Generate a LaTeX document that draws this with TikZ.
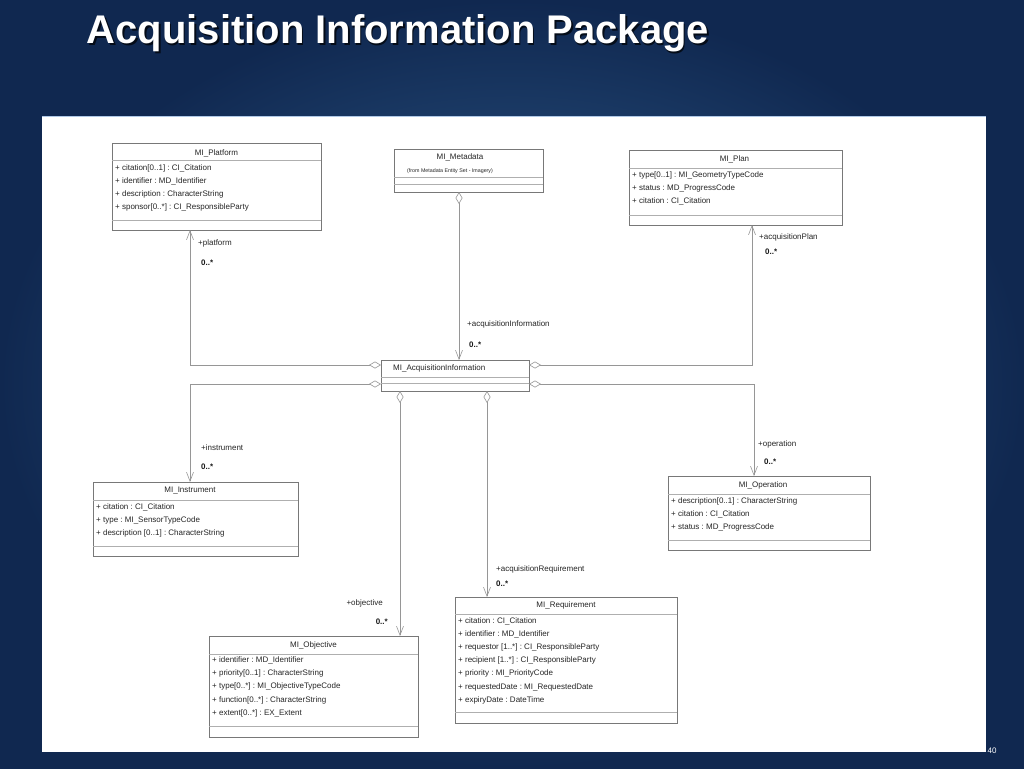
\documentclass[tikz,border=0pt]{standalone}
\usepackage{fontspec}
\setmainfont{Liberation Sans}
\usetikzlibrary{arrows.meta,shadows}
\definecolor{bgin}{RGB}{50,98,148}
\definecolor{bgout}{RGB}{16,40,80}
\definecolor{linegray}{RGB}{150,150,150}
\definecolor{boxgray}{RGB}{120,120,120}
\definecolor{sepgray}{RGB}{175,175,175}
\definecolor{paneledge}{RGB}{175,200,230}
\frenchspacing
\begin{document}
\begin{tikzpicture}[x=1pt,y=-1pt,
  cls/.style={draw=boxgray, line width=0.6pt, fill=white, anchor=north west, inner sep=0pt, outer sep=0pt,
    drop shadow={shadow xshift=0.9pt, shadow yshift=-0.9pt, opacity=1, fill=black!65}},
  txt/.style={font=\fontsize{8}{9}\selectfont, inner sep=0pt, anchor=west, text=black!85},
  ttl/.style={font=\fontsize{8}{9}\selectfont, inner sep=0pt, text=black!85},
  mult/.style={font=\fontsize{8}{9}\selectfont\bfseries, inner sep=0pt, anchor=west, text=black!90},
  sep/.style={draw=sepgray, line width=0.5pt},
  agg/.style={draw=linegray, line width=0.6pt,
    {Diamond[fill=white,length=12pt,width=7pt]}-{Straight Barb[length=9pt,width=7pt]}},
]
\useasboundingbox (0,0) rectangle (1024,768);
\shade[inner color=bgin, outer color=bgout] (0,0) rectangle (1024,768);
\node[fill=white, anchor=north west, minimum width=944pt, minimum height=636pt, inner sep=0pt] (panel) at (42,116) {};
\draw[paneledge, line width=1pt] (panel.north west) -- (panel.north east);

% title
\node[font=\fontsize{40}{41}\bfseries, text=black, anchor=base west, inner sep=0pt, opacity=0.7] (titleshadow) at (88,45.5) {Acquisition Information Package};
\node[font=\fontsize{40}{41}\bfseries, text=white, anchor=base west, inner sep=0pt] (title) at (86.5,44) {Acquisition Information Package};
\node[font=\fontsize{8}{9}\selectfont, text=white, inner sep=0pt] (pnum) at (992,751) {40};

% MI_Platform
\node[cls, minimum width=209pt, minimum height=87pt] (plat) at (112,143) {};
\draw[sep] ([yshift=-17pt]plat.north west) -- ([yshift=-17pt]plat.north east);
\draw[sep] ([yshift=-77pt]plat.north west) -- ([yshift=-77pt]plat.north east);
\node[ttl] (platt) at (216.5,153) {MI\_Platform};
\node[txt] (plata1) at (115,168) {+ citation[0..1] : CI\_Citation};
\node[txt] (plata2) at (115,181.2) {+ identifier : MD\_Identifier};
\node[txt] (plata3) at (115,194.4) {+ description : CharacterString};
\node[txt] (plata4) at (115,207.6) {+ sponsor[0..*] : CI\_ResponsibleParty};

% MI_Metadata
\node[cls, minimum width=149pt, minimum height=43pt] (meta) at (394,149) {};
\draw[sep] ([yshift=-28pt]meta.north west) -- ([yshift=-28pt]meta.north east);
\draw[sep] ([yshift=-35pt]meta.north west) -- ([yshift=-35pt]meta.north east);
\node[ttl] (metat) at (460,157) {MI\_Metadata};
\node[txt, font=\fontsize{5.3}{6}\selectfont] (metas) at (407,171.5) {(from Metadata Entity Set - Imagery)};

% MI_Plan
\node[cls, minimum width=213pt, minimum height=75pt] (plan) at (629,150) {};
\draw[sep] ([yshift=-18pt]plan.north west) -- ([yshift=-18pt]plan.north east);
\draw[sep] ([yshift=-65pt]plan.north west) -- ([yshift=-65pt]plan.north east);
\node[ttl] (plant) at (734.5,159) {MI\_Plan};
\node[txt] (plana1) at (632,175) {+ type[0..1] : MI\_GeometryTypeCode};
\node[txt] (plana2) at (632,188.2) {+ status : MD\_ProgressCode};
\node[txt] (plana3) at (632,201.4) {+ citation : CI\_Citation};

% MI_AcquisitionInformation
\node[cls, minimum width=148pt, minimum height=31pt] (acq) at (381,360) {};
\draw[sep] ([yshift=-17pt]acq.north west) -- ([yshift=-17pt]acq.north east);
\draw[sep] ([yshift=-23pt]acq.north west) -- ([yshift=-23pt]acq.north east);
\node[txt] (acqt) at (393,368) {MI\_AcquisitionInformation};

% MI_Instrument
\node[cls, minimum width=205pt, minimum height=74pt] (inst) at (93,482) {};
\draw[sep] ([yshift=-18pt]inst.north west) -- ([yshift=-18pt]inst.north east);
\draw[sep] ([yshift=-64pt]inst.north west) -- ([yshift=-64pt]inst.north east);
\node[ttl] (instt) at (190,491) {MI\_Instrument};
\node[txt] (insta1) at (96,507) {+ citation : CI\_Citation};
\node[txt] (insta2) at (96,520.2) {+ type : MI\_SensorTypeCode};
\node[txt] (insta3) at (96,533.4) {+ description [0..1] : CharacterString};

% MI_Operation
\node[cls, minimum width=202pt, minimum height=74pt] (oper) at (668,476) {};
\draw[sep] ([yshift=-18pt]oper.north west) -- ([yshift=-18pt]oper.north east);
\draw[sep] ([yshift=-64pt]oper.north west) -- ([yshift=-64pt]oper.north east);
\node[ttl] (opert) at (763,485) {MI\_Operation};
\node[txt] (opera1) at (671,501) {+ description[0..1] : CharacterString};
\node[txt] (opera2) at (671,514.2) {+ citation : CI\_Citation};
\node[txt] (opera3) at (671,527.4) {+ status : MD\_ProgressCode};

% MI_Objective
\node[cls, minimum width=209pt, minimum height=101pt] (obj) at (209,636) {};
\draw[sep] ([yshift=-18pt]obj.north west) -- ([yshift=-18pt]obj.north east);
\draw[sep] ([yshift=-90pt]obj.north west) -- ([yshift=-90pt]obj.north east);
\node[ttl] (objt) at (313.5,645) {MI\_Objective};
\node[txt] (obja1) at (212,660.5) {+ identifier : MD\_Identifier};
\node[txt] (obja2) at (212,673.7) {+ priority[0..1] : CharacterString};
\node[txt] (obja3) at (212,686.9) {+ type[0..*] : MI\_ObjectiveTypeCode};
\node[txt] (obja4) at (212,700.1) {+ function[0..*] : CharacterString};
\node[txt] (obja5) at (212,713.3) {+ extent[0..*] : EX\_Extent};

% MI_Requirement
\node[cls, minimum width=222pt, minimum height=126pt] (req) at (455,597) {};
\draw[sep] ([yshift=-17pt]req.north west) -- ([yshift=-17pt]req.north east);
\draw[sep] ([yshift=-115pt]req.north west) -- ([yshift=-115pt]req.north east);
\node[ttl] (reqt) at (566,605) {MI\_Requirement};
\node[txt] (reqa1) at (458,621) {+ citation : CI\_Citation};
\node[txt] (reqa2) at (458,634.2) {+ identifier : MD\_Identifier};
\node[txt] (reqa3) at (458,647.4) {+ requestor [1..*] : CI\_ResponsibleParty};
\node[txt] (reqa4) at (458,660.6) {+ recipient [1..*] : CI\_ResponsibleParty};
\node[txt] (reqa5) at (458,673.8) {+ priority : MI\_PriorityCode};
\node[txt] (reqa6) at (458,687) {+ requestedDate : MI\_RequestedDate};
\node[txt] (reqa7) at (458,700.2) {+ expiryDate : DateTime};

% connectors
\draw[agg] ([yshift=-5pt]acq.north west) -| ([xshift=78pt]plat.south west);
\draw[agg] ([yshift=-24pt]acq.north west) -| ([xshift=97pt]inst.north west);
\draw[agg] ([yshift=-5pt]acq.north east) -| ([xshift=123pt]plan.south west);
\draw[agg] ([yshift=-24pt]acq.north east) -| ([xshift=86pt]oper.north west);
\draw[agg] ([xshift=65pt]meta.south west) -- ([xshift=78pt]acq.north west);
\draw[agg] ([xshift=19pt]acq.south west) -- ([xshift=191pt]obj.north west);
\draw[agg] ([xshift=106pt]acq.south west) -- ([xshift=32pt]req.north west);

% role labels
\node[txt] (lplat) at (198,243) {+platform};
\node[mult] (mplat) at (201,263) {0..*};
\node[txt] (lmeta) at (467,324) {+acquisitionInformation};
\node[mult] (mmeta) at (469,345) {0..*};
\node[txt] (lplan) at (759,237) {+acquisitionPlan};
\node[mult] (mplan) at (765,252) {0..*};
\node[txt] (linst) at (201,448) {+instrument};
\node[mult] (minst) at (201,467) {0..*};
\node[txt] (loper) at (758,444) {+operation};
\node[mult] (moper) at (764,462) {0..*};
\node[txt, anchor=east] (lobj) at (383,603) {+objective};
\node[mult, anchor=east] (mobj) at (388,622) {0..*};
\node[txt] (lreq) at (496,569.5) {+acquisitionRequirement};
\node[mult] (mreq) at (496,584) {0..*};
\end{tikzpicture}
\end{document}
